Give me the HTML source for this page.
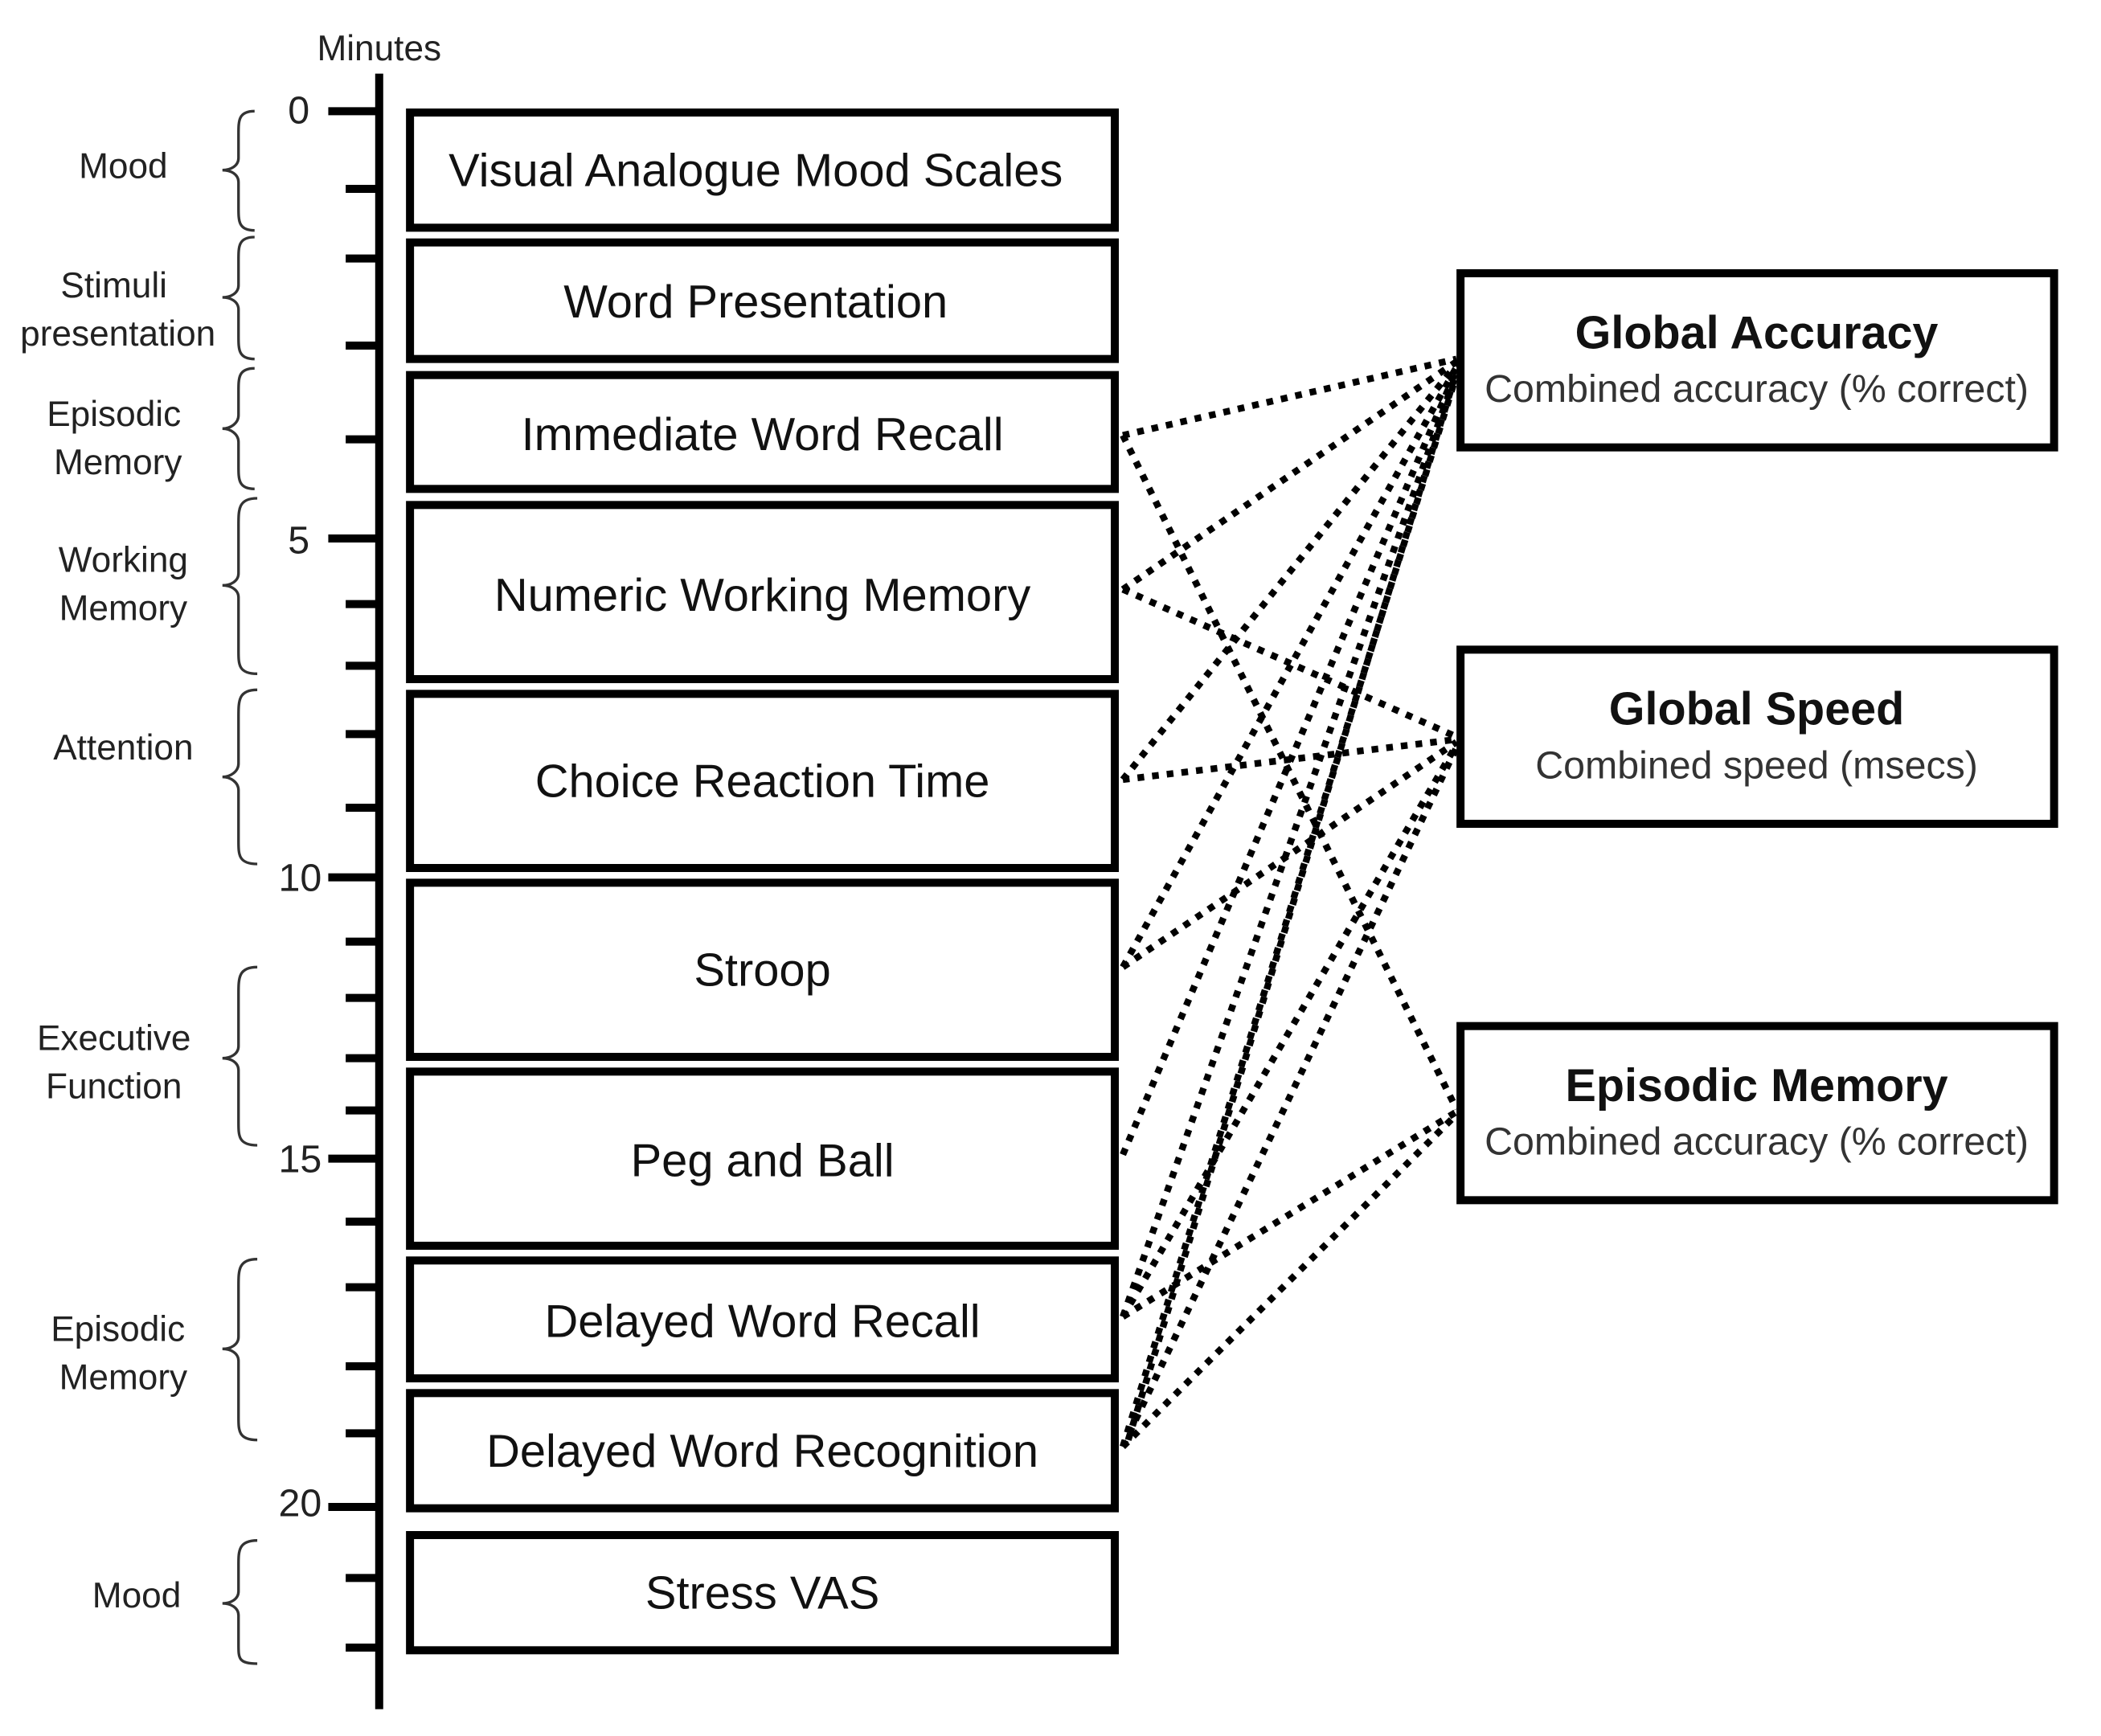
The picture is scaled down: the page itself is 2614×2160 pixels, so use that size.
<!DOCTYPE html>
<html><head><meta charset="utf-8"><style>html,body{margin:0;padding:0;background:#fff}svg{display:block}</style></head>
<body>
<svg width="2614" height="2160" viewBox="0 0 1568 1296" preserveAspectRatio="none" xmlns="http://www.w3.org/2000/svg" font-family="Liberation Sans, Arial, sans-serif">
<rect width="1568" height="1296" fill="#fff"/>
<text x="283" y="45" font-size="26.5" text-anchor="middle" fill="#222">Minutes</text>
<line x1="283" y1="55" x2="283" y2="1276" stroke="#000" stroke-width="6"/>
<g stroke="#000" stroke-width="6">
<line x1="245" y1="83" x2="283" y2="83"/>
<line x1="258" y1="141" x2="283" y2="141"/>
<line x1="258" y1="193" x2="283" y2="193"/>
<line x1="258" y1="258" x2="283" y2="258"/>
<line x1="258" y1="328" x2="283" y2="328"/>
<line x1="245" y1="402" x2="283" y2="402"/>
<line x1="258" y1="451" x2="283" y2="451"/>
<line x1="258" y1="497" x2="283" y2="497"/>
<line x1="258" y1="548" x2="283" y2="548"/>
<line x1="258" y1="603" x2="283" y2="603"/>
<line x1="245" y1="655" x2="283" y2="655"/>
<line x1="258" y1="703" x2="283" y2="703"/>
<line x1="258" y1="745" x2="283" y2="745"/>
<line x1="258" y1="790" x2="283" y2="790"/>
<line x1="258" y1="829" x2="283" y2="829"/>
<line x1="245" y1="865" x2="283" y2="865"/>
<line x1="258" y1="912" x2="283" y2="912"/>
<line x1="258" y1="961" x2="283" y2="961"/>
<line x1="258" y1="1020" x2="283" y2="1020"/>
<line x1="258" y1="1070" x2="283" y2="1070"/>
<line x1="245" y1="1125" x2="283" y2="1125"/>
<line x1="258" y1="1178" x2="283" y2="1178"/>
<line x1="258" y1="1230" x2="283" y2="1230"/>
</g>
<g font-size="29" fill="#222" text-anchor="middle">
<text x="223" y="92">0</text>
<text x="223" y="413">5</text>
<text x="224" y="665">10</text>
<text x="224" y="875">15</text>
<text x="224" y="1132">20</text>
</g>
<g fill="none" stroke="#333" stroke-width="2">
<path d="M190,83 C178,83 178,90 178,100 L178,118 C178,124 172,127 166,127 C172,127 178,130 178,136 L178,155 C178,165 178,172 190,172"/>
<path d="M190,177 C178,177 178,184 178,194 L178,213 C178,219 172,222 166,222 C172,222 178,225 178,231 L178,251 C178,261 178,268 190,268"/>
<path d="M190,275 C178,275 178,282 178,292 L178,310 C178,316 172,320 166,320 C172,320 178,324 178,330 L178,348 C178,358 178,365 190,365"/>
<path d="M192,372 C178,372 178,380 178,392 L178,428 C178,434 172,437 166,437 C172,437 178,440 178,446 L178,486 C178,496 178,503 192,503"/>
<path d="M192,515 C178,515 178,523 178,535 L178,570 C178,576 172,580 166,580 C172,580 178,584 178,590 L178,628 C178,638 178,645 192,645"/>
<path d="M192,722 C178,722 178,730 178,742 L178,781 C178,787 172,790 166,790 C172,790 178,793 178,799 L178,838 C178,848 178,855 192,855"/>
<path d="M192,940 C178,940 178,948 178,960 L178,998 C178,1004 172,1007 166,1007 C172,1007 178,1010 178,1016 L178,1058 C178,1068 178,1075 192,1075"/>
<path d="M192,1150 C178,1150 178,1158 178,1168 L178,1188 C178,1194 172,1197 166,1197 C172,1197 178,1200 178,1206 L178,1228 C178,1238 178,1242 192,1242"/>
</g>
<g font-size="26.5" fill="#222" text-anchor="middle">
<text x="92" y="133">Mood</text>
<text x="85" y="222">Stimuli</text>
<text x="88" y="258">presentation</text>
<text x="85" y="318">Episodic</text>
<text x="88" y="354">Memory</text>
<text x="92" y="427">Working</text>
<text x="92" y="463">Memory</text>
<text x="92" y="567">Attention</text>
<text x="85" y="784">Executive</text>
<text x="85" y="820">Function</text>
<text x="88" y="1001">Episodic</text>
<text x="92" y="1037">Memory</text>
<text x="102" y="1200">Mood</text>
</g>
<g fill="none" stroke="#000" stroke-width="6">
<rect x="306" y="84" width="526" height="86"/>
<rect x="306" y="181" width="526" height="87"/>
<rect x="306" y="280" width="526" height="85"/>
<rect x="306" y="377" width="526" height="130"/>
<rect x="306" y="518" width="526" height="130"/>
<rect x="306" y="659" width="526" height="130"/>
<rect x="306" y="800" width="526" height="130"/>
<rect x="306" y="941" width="526" height="88"/>
<rect x="306" y="1040" width="526" height="86"/>
<rect x="306" y="1146" width="526" height="86"/>
<rect x="1090" y="204" width="443" height="130"/>
<rect x="1090" y="485" width="443" height="130"/>
<rect x="1090" y="766" width="443" height="130"/>
</g>
<g font-size="34.7" fill="#111" text-anchor="middle">
<text x="564" y="139">Visual Analogue Mood Scales</text>
<text x="564" y="237">Word Presentation</text>
<text x="569" y="336">Immediate Word Recall</text>
<text x="569" y="456">Numeric Working Memory</text>
<text x="569" y="595">Choice Reaction Time</text>
<text x="569" y="736">Stroop</text>
<text x="569" y="878">Peg and Ball</text>
<text x="569" y="998">Delayed Word Recall</text>
<text x="569" y="1095">Delayed Word Recognition</text>
<text x="569" y="1201">Stress VAS</text>
</g>
<g text-anchor="middle" fill="#111">
<text x="1311" y="260" font-size="34.5" font-weight="bold">Global Accuracy</text>
<text x="1311" y="300" font-size="29" fill="#333">Combined accuracy (% correct)</text>
<text x="1311" y="541" font-size="34.5" font-weight="bold">Global Speed</text>
<text x="1311" y="581" font-size="29" fill="#333">Combined speed (msecs)</text>
<text x="1311" y="822" font-size="34.5" font-weight="bold">Episodic Memory</text>
<text x="1311" y="862" font-size="29" fill="#333">Combined accuracy (% correct)</text>
</g>
<g stroke="#000" stroke-width="5" stroke-dasharray="5 6" fill="none">
<line x1="838" y1="325" x2="1087" y2="268"/>
<line x1="838" y1="325" x2="1087" y2="828"/>
<line x1="838" y1="440" x2="1087" y2="270"/>
<line x1="838" y1="440" x2="1087" y2="550"/>
<line x1="838" y1="582" x2="1087" y2="272"/>
<line x1="838" y1="582" x2="1087" y2="552"/>
<line x1="838" y1="722" x2="1087" y2="274"/>
<line x1="838" y1="722" x2="1087" y2="554"/>
<line x1="838" y1="862" x2="1087" y2="276"/>
<line x1="838" y1="983" x2="1087" y2="278"/>
<line x1="838" y1="983" x2="1087" y2="556"/>
<line x1="838" y1="983" x2="1087" y2="830"/>
<line x1="838" y1="1080" x2="1087" y2="280"/>
<line x1="842" y1="1075" x2="1085" y2="284"/>
<line x1="838" y1="1080" x2="1087" y2="558"/>
<line x1="838" y1="1080" x2="1087" y2="832"/>
</g>
</svg>
</body></html>
